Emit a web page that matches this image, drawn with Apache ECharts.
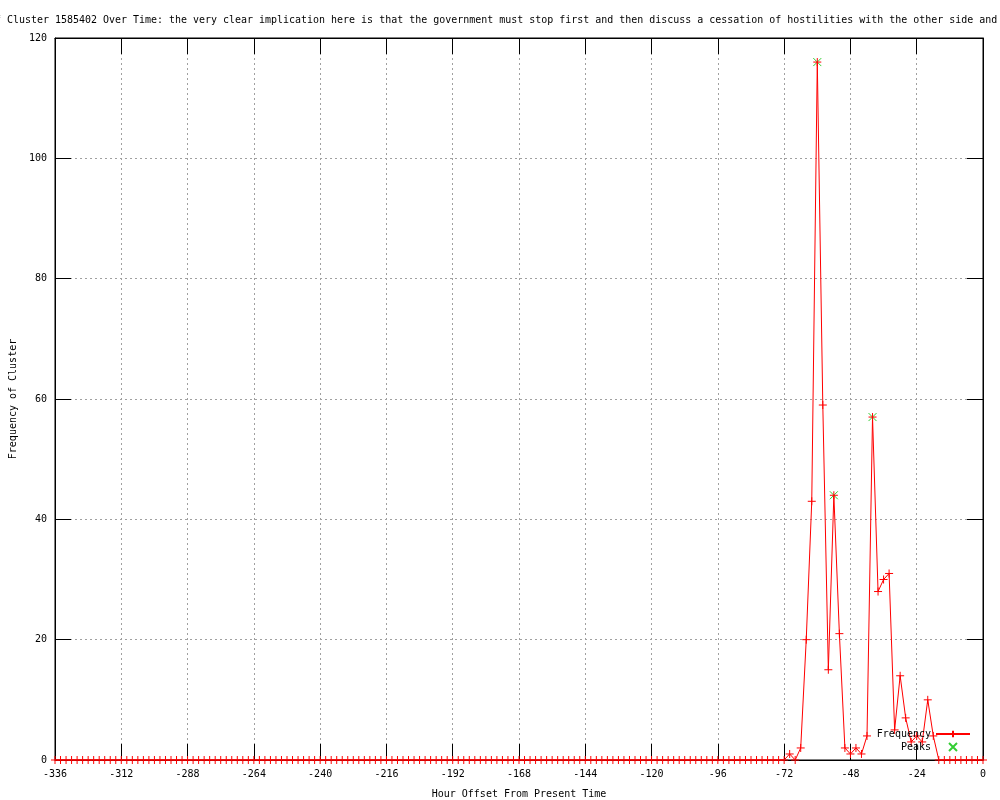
<!DOCTYPE html>
<html>
<head>
<meta charset="utf-8">
<script src="https://cdn.jsdelivr.net/npm/echarts@6/dist/echarts.min.js"></script>
<style>html,body{margin:0;padding:0;background:#fff}#c{width:1000px;height:800px}</style>
</head>
<body>
<div id="c"></div>
<script>
const titleText = "Frequency of Cluster 1585402 Over Time: the very clear implication here is that the government must stop first and then discuss a cessation of hostilities with the other side and";
const xName = "Hour Offset From Present Time";
const yName = "Frequency of Cluster";

const hours = [
-336,-334,-332,-330,-328,-326,-324,-322,-320,-318,-316,-314,
-312,-310,-308,-306,-304,-302,-300,-298,-296,-294,-292,-290,
-288,-286,-284,-282,-280,-278,-276,-274,-272,-270,-268,-266,
-264,-262,-260,-258,-256,-254,-252,-250,-248,-246,-244,-242,
-240,-238,-236,-234,-232,-230,-228,-226,-224,-222,-220,-218,
-216,-214,-212,-210,-208,-206,-204,-202,-200,-198,-196,-194,
-192,-190,-188,-186,-184,-182,-180,-178,-176,-174,-172,-170,
-168,-166,-164,-162,-160,-158,-156,-154,-152,-150,-148,-146,
-144,-142,-140,-138,-136,-134,-132,-130,-128,-126,-124,-122,
-120,-118,-116,-114,-112,-110,-108,-106,-104,-102,-100,-98,
-96,-94,-92,-90,-88,-86,-84,-82,-80,-78,-76,-74,
-72,-70,-68,-66,-64,-62,-60,-58,-56,-54,-52,-50,
-48,-46,-44,-42,-40,-38,-36,-34,-32,-30,-28,-26,
-24,-22,-20,-18,-16,-14,-12,-10,-8,-6,-4,-2,
0];

const frequency = [
0,0,0,0,0,0,0,0,0,0,0,0,
0,0,0,0,0,0,0,0,0,0,0,0,
0,0,0,0,0,0,0,0,0,0,0,0,
0,0,0,0,0,0,0,0,0,0,0,0,
0,0,0,0,0,0,0,0,0,0,0,0,
0,0,0,0,0,0,0,0,0,0,0,0,
0,0,0,0,0,0,0,0,0,0,0,0,
0,0,0,0,0,0,0,0,0,0,0,0,
0,0,0,0,0,0,0,0,0,0,0,0,
0,0,0,0,0,0,0,0,0,0,0,0,
0,0,0,0,0,0,0,0,0,0,0,0,
0,1,0,2,20,43,116,59,15,44,21,2,
1,2,1,4,57,28,30,31,5,14,7,3,
4,3,10,4,0,0,0,0,0,0,0,0,
0];

const peakHours = [-60, -54, -40];
const peakValues = [116, 44, 57];

const FONT = 'DejaVu Sans Mono';
const txt = () => ({fontFamily: FONT, fontSize: 10, color: '#000'});
const gridLine = () => ({show: true, lineStyle: {color: '#a0a0a0', type: [2, 3], width: 1}});
const tick = () => ({show: true, inside: true, length: 16, lineStyle: {color: '#000', width: 1}});
const axLine = () => ({show: true, onZero: false, lineStyle: {color: '#000', width: 1}});

const chart = echarts.init(document.getElementById('c'), null, {renderer: 'canvas'});
chart.setOption({
  animation: false,
  backgroundColor: '#fff',
  title: {
    text: titleText, left: -76, top: 10,
    textStyle: {fontFamily: FONT, fontSize: 9.97, fontWeight: 'normal', color: '#000'}
  },
  legend: {
    orient: 'vertical', right: 24, top: 724, align: 'right',
    itemWidth: 34, itemHeight: 8, itemGap: 3,
    textStyle: txt(),
    data: ['Frequency', 'Peaks']
  },
  grid: {left: 55, right: 17, top: 38, bottom: 40, show: true, borderColor: '#000', borderWidth: 1,
         containLabel: false, outerBoundsMode: 'none'},
  xAxis: [{
    type: 'value', min: -336, max: 0, interval: 24,
    name: xName, nameLocation: 'middle', nameGap: 29, nameTextStyle: txt(),
    axisLine: axLine(),
    axisTick: tick(),
    axisLabel: Object.assign({margin: 9}, txt()),
    splitLine: gridLine()
  }, {
    type: 'value', min: -336, max: 0, interval: 24, position: 'top',
    axisLine: axLine(), axisTick: tick(), axisLabel: {show: false}, splitLine: {show: false}
  }],
  yAxis: [{
    type: 'value', min: 0, max: 120, interval: 20, position: 'left',
    name: yName, nameLocation: 'middle', nameGap: 37, nameRotate: 90, nameTextStyle: txt(),
    axisLine: axLine(),
    axisTick: tick(),
    axisLabel: Object.assign({margin: 8}, txt()),
    splitLine: gridLine()
  }, {
    type: 'value', min: 0, max: 120, interval: 20, position: 'right',
    axisLine: axLine(), axisTick: tick(), axisLabel: {show: false}, splitLine: {show: false}
  }],
  series: [{
    name: 'Frequency', type: 'line',
    data: hours.map((h, i) => [h, frequency[i]]),
    symbol: 'path://M4,0L4,8M0,4L8,4', symbolSize: 8, showAllSymbol: true,
    lineStyle: {color: '#ff0000', width: 1},
    itemStyle: {color: '#ff0000', borderColor: '#ff0000', borderWidth: 1},
    emphasis: {disabled: true}, clip: false, z: 3
  }, {
    name: 'Peaks', type: 'scatter',
    data: peakHours.map((h, i) => [h, peakValues[i]]),
    symbol: 'path://M0,0L8,8M8,0L0,8', symbolSize: 8,
    itemStyle: {color: '#00c000', borderColor: '#00c000', borderWidth: 1},
    emphasis: {disabled: true}, z: 2
  }]
});
</script>
</body>
</html>
